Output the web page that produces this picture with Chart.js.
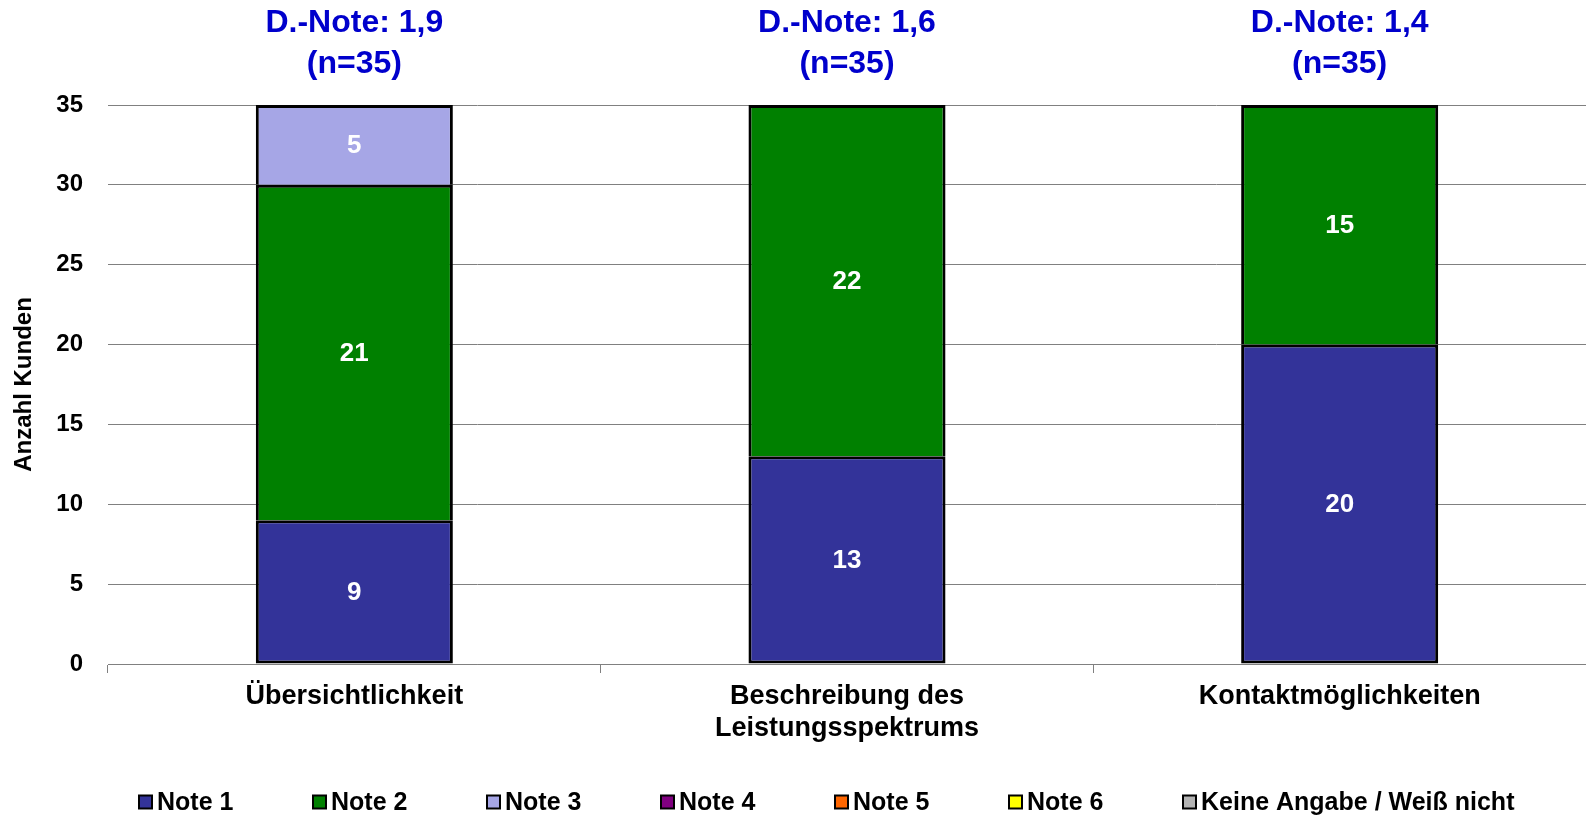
<!DOCTYPE html>
<html>
<head>
<meta charset="utf-8">
<script src="https://cdn.jsdelivr.net/npm/chart.js@4/dist/chart.umd.min.js"></script>
<style>
  html, body { margin: 0; padding: 0; background: #ffffff; }
  #wrap { width: 1586px; height: 816px; position: relative; }
</style>
</head>
<body>
<div id="wrap"><canvas id="c" width="1586" height="816"></canvas></div>
<script>
// ---- data ----
const categories = ['Übersichtlichkeit', ['Beschreibung des', 'Leistungsspektrums'], 'Kontaktmöglichkeiten'];
const seriesNames = ['Note 1', 'Note 2', 'Note 3', 'Note 4', 'Note 5', 'Note 6', 'Keine Angabe / Weiß nicht'];
const note1 = [9, 13, 20];
const note2 = [21, 22, 15];
const note3 = [5, 0, 0];
const note4 = [0, 0, 0];
const note5 = [0, 0, 0];
const note6 = [0, 0, 0];
const keineAngabe = [0, 0, 0];
const averageLabels = ['D.-Note: 1,9', 'D.-Note: 1,6', 'D.-Note: 1,4'];
const countLabels = ['(n=35)', '(n=35)', '(n=35)'];
const yMin = 0, yMax = 35, yStep = 5;
const seriesColors = ['#333399', '#008000', '#A6A6E6', '#800080', '#FF6600', '#FFFF00', '#B3B3B3'];

const FONT = "'Liberation Sans', Arial, Helvetica, sans-serif";
const seriesValues = [note1, note2, note3, note4, note5, note6, keineAngabe];

const datasets = seriesValues.map((vals, i) => ({
  label: seriesNames[i],
  data: vals,
  backgroundColor: seriesColors[i],
  borderColor: '#000000',
  borderWidth: i === 0 ? 3 : { top: 3, left: 3, right: 3, bottom: 0 },
  borderSkipped: false,
  categoryPercentage: 1.0,
  barPercentage: 0.4
}));

// value labels inside segments
const valueLabels = {
  id: 'valueLabels',
  afterDatasetsDraw(chart) {
    const ctx = chart.ctx;
    ctx.save();
    ctx.font = 'bold 26px ' + FONT;
    ctx.fillStyle = '#ffffff';
    ctx.textAlign = 'center';
    ctx.textBaseline = 'middle';
    chart.data.datasets.forEach((ds, di) => {
      const meta = chart.getDatasetMeta(di);
      meta.data.forEach((bar, i) => {
        const v = ds.data[i];
        if (!v) return;
        const p = bar.getProps(['x', 'y', 'base'], true);
        ctx.fillText(String(v), p.x, (p.y + p.base) / 2 + 1);
      });
    });
    ctx.restore();
  }
};

// average grade annotations above each bar
const topNotes = {
  id: 'topNotes',
  afterDraw(chart) {
    const ctx = chart.ctx;
    const xs = chart.scales.x;
    ctx.save();
    ctx.font = 'bold 32px ' + FONT;
    ctx.fillStyle = '#0000CC';
    ctx.textAlign = 'center';
    ctx.textBaseline = 'middle';
    averageLabels.forEach((t, i) => {
      const x = xs.getPixelForValue(i);
      ctx.fillText(t, x, 23);
      ctx.fillText(countLabels[i], x, 64);
    });
    ctx.restore();
  }
};

// legend row at the bottom
const bottomLegend = {
  id: 'bottomLegend',
  afterDraw(chart) {
    const ctx = chart.ctx;
    ctx.save();
    ctx.font = 'bold 25px ' + FONT;
    ctx.textAlign = 'left';
    ctx.textBaseline = 'middle';
    const startX = 139, pitch = 174, cy = 802, box = 13;
    chart.data.datasets.forEach((ds, i) => {
      const x = startX + i * pitch;
      ctx.fillStyle = ds.backgroundColor;
      ctx.fillRect(x, cy - box / 2, box, box);
      ctx.lineWidth = 2;
      ctx.strokeStyle = '#000000';
      ctx.strokeRect(x, cy - box / 2, box, box);
      ctx.fillStyle = '#000000';
      ctx.fillText(ds.label, x + box + 5, cy + 1);
    });
    ctx.restore();
  }
};

new Chart(document.getElementById('c'), {
  type: 'bar',
  data: { labels: categories, datasets },
  options: {
    responsive: false,
    animation: false,
    devicePixelRatio: 1,
    layout: { padding: { top: 105, left: 0, right: 0, bottom: 0 } },
    plugins: {
      legend: { display: false },
      tooltip: { enabled: false },
      title: { display: false }
    },
    scales: {
      x: {
        stacked: true,
        afterFit(scale) { scale.height = 816 - 664; },
        grid: {
          offset: true,
          drawOnChartArea: false,
          drawTicks: true,
          tickLength: 9,
          color: '#808080',
          lineWidth: 1
        },
        border: { display: true, color: '#808080', width: 1 },
        ticks: {
          color: '#000000',
          font: { family: FONT, size: 27, weight: 'bold', lineHeight: 1.17 },
          padding: 8,
          maxRotation: 0,
          autoSkip: false
        }
      },
      y: {
        stacked: true,
        min: yMin,
        max: yMax,
        afterFit(scale) { scale.width = 108; },
        grid: { color: '#808080', lineWidth: 1, drawTicks: false },
        border: { display: false },
        ticks: {
          stepSize: yStep,
          color: '#000000',
          font: { family: FONT, size: 24, weight: 'bold' },
          padding: 25
        },
        title: {
          display: true,
          text: 'Anzahl Kunden',
          color: '#000000',
          font: { family: FONT, size: 24, weight: 'bold', lineHeight: 1.2 },
          padding: { top: 10, bottom: 0 }
        }
      }
    }
  },
  plugins: [valueLabels, topNotes, bottomLegend]
});
</script>
</body>
</html>
